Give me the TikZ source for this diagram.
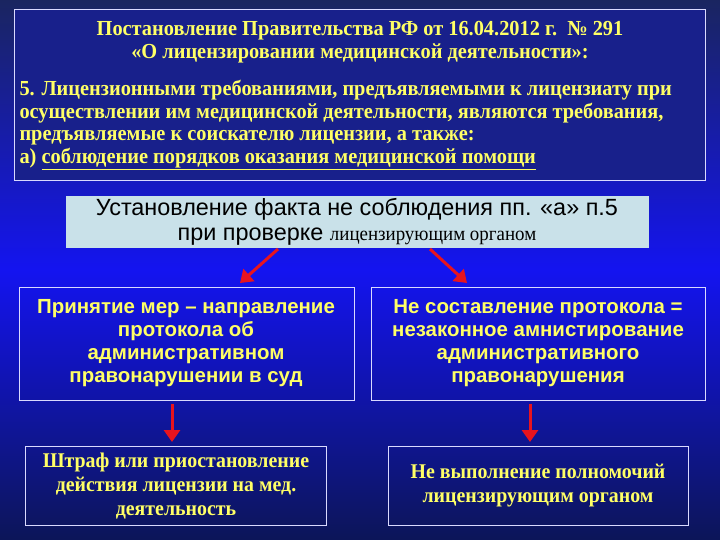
\documentclass[tikz,border=0pt]{standalone}
\usepackage{fontspec}
\setmainfont{Liberation Serif}
\setsansfont{Liberation Sans}
\newfontfamily\condserif[FakeStretch=0.95]{Liberation Serif}
\newfontfamily\condsans[FakeStretch=1.0]{Liberation Sans}
\usetikzlibrary{arrows.meta}
\definecolor{ylw}{HTML}{FFFF66}
\definecolor{bgtop}{HTML}{1A2560}
\definecolor{bgmid}{HTML}{1414F0}
\definecolor{bgbot}{HTML}{0C1558}
\definecolor{pale}{HTML}{C9E1E9}
\definecolor{arr}{HTML}{E8141E}
\tikzset{
  frame/.style={draw=white!85!blue,line width=0.8bp},
  ytext/.style={text=ylw,font=\bfseries,align=center},
  redarrow/.style={draw=arr,line width=3bp,-{Triangle[length=12bp,width=16bp]}},
}
\begin{document}
\begin{tikzpicture}[x=1bp,y=-1bp]
\useasboundingbox (0,0) rectangle (720,540);
\shade[top color=bgtop,bottom color=bgmid] (0,0) rectangle (720,270);
\shade[top color=bgmid,bottom color=bgbot] (0,270) rectangle (720,540);
% top box
\draw[frame,fill=bgtop!70!bgmid] (14,9) rectangle (705,180);
\node[ytext,font=\condserif\bfseries\fontsize{21.5}{23}\selectfont] (title) at (360,42)
  {Постановление Правительства РФ от 16.04.2012 г.\ \ № 291\\«О лицензировании медицинской деятельности»:};
\node[ytext,align=left,anchor=north west,font=\condserif\bfseries\fontsize{21.5}{22.5}\selectfont] (body) at (16,77)
  {5. Лицензионными требованиями, предъявляемыми к лицензиату при\\
   осуществлении им медицинской деятельности, являются требования,\\
   предъявляемые к соискателю лицензии, а также:\\
   а) \underline{соблюдение порядков оказания медицинской помощи}};
% middle box
\fill[pale] (66,196) rectangle (649,248);
\node[align=center,font=\condsans\fontsize{23.5}{25}\selectfont] (mid) at (357,222)
  {Установление факта не соблюдения пп. «а» п.5\\при проверке {\condserif\fontsize{20}{25}\selectfont лицензирующим органом}};
% second row
\draw[frame] (19,287) rectangle (354,400);
\node[ytext,font=\condsans\bfseries\fontsize{20.5}{23}\selectfont] (l1) at (186,343)
  {Принятие мер – направление\\протокола об\\административном\\правонарушении в суд};
\draw[frame] (371,287) rectangle (705,400);
\node[ytext,font=\condsans\bfseries\fontsize{20.5}{23}\selectfont] (r1) at (538,343)
  {Не составление протокола =\\незаконное амнистирование\\административного\\правонарушения};
% third row
\draw[frame] (25,446) rectangle (326,525);
\node[ytext,font=\condserif\bfseries\fontsize{21}{24}\selectfont] (l2) at (176,486)
  {Штраф или приостановление\\действия лицензии на мед.\\деятельность};
\draw[frame] (388,446) rectangle (688,525);
\node[ytext,font=\condserif\bfseries\fontsize{21}{24}\selectfont] (r2) at (538,486)
  {Не выполнение полномочий\\лицензирующим органом};
% arrows
\coordinate (a1s) at (278,249); \coordinate (a1e) at (240,283);
\coordinate (a2s) at (430,249); \coordinate (a2e) at (467,283);
\coordinate (a3s) at (172,404); \coordinate (a3e) at (172,442);
\coordinate (a4s) at (530,404); \coordinate (a4e) at (530,442);
\draw[redarrow] (a1s) -- (a1e);
\draw[redarrow] (a2s) -- (a2e);
\draw[redarrow] (a3s) -- (a3e);
\draw[redarrow] (a4s) -- (a4e);
\end{tikzpicture}
\end{document}
